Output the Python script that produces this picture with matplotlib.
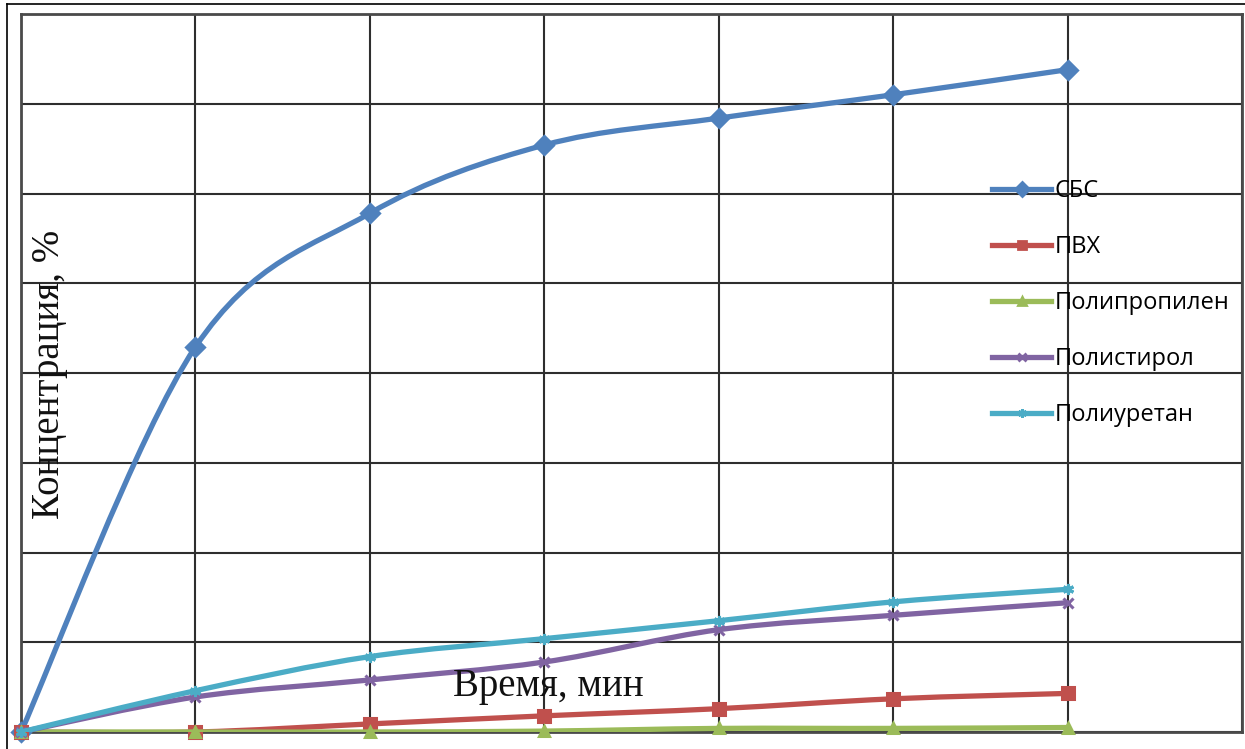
import numpy as np
import matplotlib
matplotlib.use("Agg")
import matplotlib.pyplot as plt
from matplotlib.path import Path
from matplotlib.patches import PathPatch
from matplotlib.lines import Line2D

# Time points (grid columns) and concentrations, %
time_points = [0, 1, 2, 3, 4, 5, 6]
sbs = [0, 42.9, 57.8, 65.4, 68.4, 71.0, 73.8]
pvc = [0, 0, 0.9, 1.8, 2.6, 3.7, 4.3]
polypropylene = [0, 0, 0, 0.1, 0.4, 0.4, 0.5]
polystyrene = [0, 3.9, 5.8, 7.8, 11.4, 13.0, 14.4]
polyurethane = [0, 4.6, 8.4, 10.4, 12.4, 14.5, 15.9]

series_names = ["СБС", "ПВХ", "Полипропилен", "Полистирол", "Полиуретан"]
series_values = [sbs, pvc, polypropylene, polystyrene, polyurethane]
colors = ["#4F81BD", "#C0504D", "#9BBB59", "#8064A2", "#4BACC6"]
markers = ["D", "s", "^", "x", (6, 2, 0)]
marker_sizes = [9, 8, 7, 7, 8]

W, H = 1245, 749
fig = plt.figure(figsize=(W / 100, H / 100), dpi=100)
left, right, top, bottom = 21, 1242, 14, 732
ax = fig.add_axes([left / W, 1 - bottom / H, (right - left) / W, (bottom - top) / H])


def smooth_path(xs, ys):
    """Catmull-Rom style cubic Bezier through the points (spreadsheet 'smoothed line')."""
    pts = np.column_stack([xs, ys]).astype(float)
    n = len(pts)
    verts = [pts[0]]
    codes = [Path.MOVETO]
    for i in range(n - 1):
        p0 = pts[i - 1] if i > 0 else pts[i]
        p1 = pts[i]
        p2 = pts[i + 1]
        p3 = pts[i + 2] if i + 2 < n else pts[i + 1]
        c1 = p1 + (p2 - p0) / 6.0
        c2 = p2 - (p3 - p1) / 6.0
        verts += [c1, c2, p2]
        codes += [Path.CURVE4] * 3
    return Path(np.array(verts), codes)


lw = 3.8
handles = []
for k, (name, vals, col, mk, ms) in enumerate(
        zip(series_names, series_values, colors, markers, marker_sizes)):
    patch = PathPatch(smooth_path(time_points, vals), facecolor="none",
                      edgecolor=col, linewidth=lw, capstyle="round",
                      joinstyle="round", zorder=3 + k)
    ax.add_patch(patch)
    ax.plot(time_points, vals, linestyle="none", marker=mk, markersize=ms,
            color=col, markeredgecolor=col, markeredgewidth=2.2, zorder=3 + k,
            clip_on=False)
    handles.append(Line2D([0], [0], color=col, linewidth=lw, marker=mk,
                          markersize=ms * 0.8, markeredgecolor=col,
                          markeredgewidth=2.0))

ax.set_xlim(0, 7)
ax.set_ylim(0, 80)
ax.set_xticks(np.arange(0, 8, 1))
ax.set_yticks(np.arange(0, 81, 10))
ax.tick_params(length=0, labelleft=False, labelbottom=False)
ax.grid(True, color="#2e2e2e", linewidth=1.5, zorder=1)
ax.set_axisbelow(True)
for sp in ax.spines.values():
    sp.set_color("#4a4a4a")
    sp.set_linewidth(2.0)

fig.legend(handles, series_names, loc="upper left",
           bbox_to_anchor=(992 / W, 1 - 179 / H),
           frameon=False, prop={"family": "Open Sans", "size": 17},
           handlelength=2.5, handletextpad=0.15, labelspacing=1.36,
           borderpad=0, borderaxespad=0)

serif = ["Liberation Serif", "DejaVu Serif"]
fig.text(548 / W, 1 - 696 / H, "Время, мин", family=serif, fontsize=28,
         ha="center", va="baseline", color="#111111", zorder=10)
fig.text(50 / W, 1 - 374 / H, "Концентрация, %", family=serif, fontsize=28,
         rotation=90, ha="center", va="center", color="#111111")

# thin outer frame on the left and top edges
fig.add_artist(Line2D([7 / W, 7 / W], [0, 1 - 4 / H], color="black",
                      linewidth=1.2, transform=fig.transFigure))
fig.add_artist(Line2D([7 / W, 1], [1 - 4 / H, 1 - 4 / H], color="black",
                      linewidth=1.2, transform=fig.transFigure))

fig.savefig("out.png", dpi=100, facecolor="white")
